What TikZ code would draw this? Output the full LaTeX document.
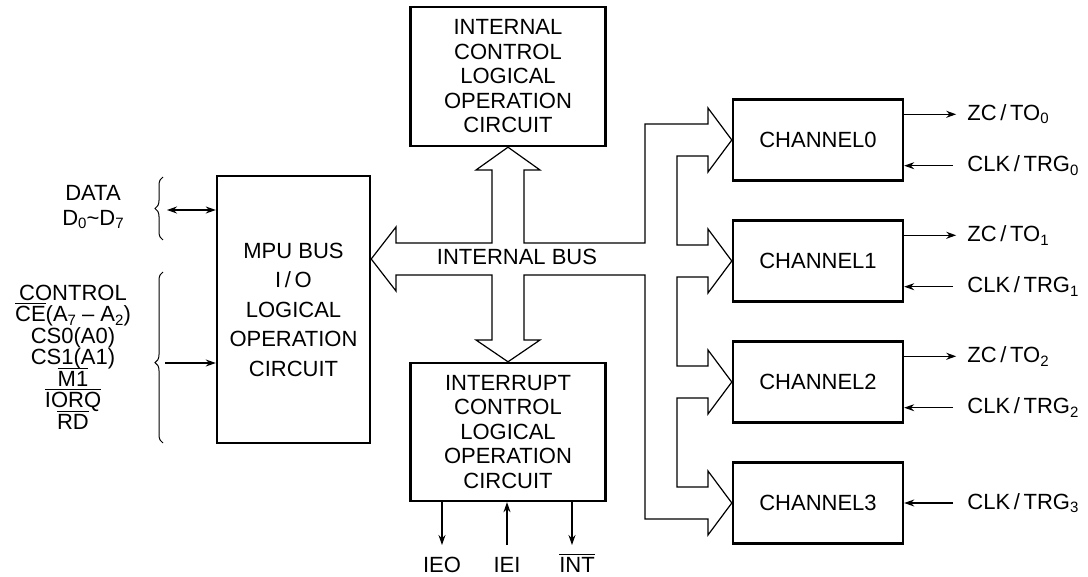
\documentclass[tikz,border=0pt]{standalone}
\usepackage{fontspec}
\setmainfont{Liberation Sans}
\usetikzlibrary{positioning,arrows.meta,calc,decorations.pathreplacing}

\newcommand\lsub[1]{\raisebox{-3.5pt}{\fontsize{15}{15}\selectfont #1}}
\newcommand\ovl[1]{\setbox0\hbox{#1}\rlap{\smash{\rule[17.5pt]{\wd0}{0.9pt}}}\box0}
\lineskiplimit=-100pt

\tikzset{
  block/.style={draw,line width=2.4pt,align=center,inner sep=0pt},
  sig/.style={line width=1.1pt,-{Stealth[length=10pt,width=7pt]}},
  bus/.style={line width=1.2pt,line join=miter},
  lbl/.style={inner sep=0pt,align=center},
  brc/.style={decorate,decoration={brace,amplitude=8pt},line width=1pt}
}

\begin{document}
\begin{tikzpicture}[x=1pt,y=-1pt,font=\fontsize{22}{24.5}\selectfont]
\useasboundingbox (0,0) rectangle (1088,577);

% circuit blocks
\node[block,minimum width=153pt,minimum height=267pt,
      font=\fontsize{22}{29.5}\selectfont] (mpu) at (293.5,309.5)
  {MPU BUS\\I\,/\,O\\LOGICAL\\OPERATION\\CIRCUIT};
\node[block,minimum width=195pt,minimum height=139pt] (ictl) at (508,76.5)
  {INTERNAL\\CONTROL\\LOGICAL\\OPERATION\\CIRCUIT};
\node[block,minimum width=195pt,minimum height=138pt] (intr) at (508,432)
  {INTERRUPT\\CONTROL\\LOGICAL\\OPERATION\\CIRCUIT};
\foreach \i/\y in {0/140,1/261,2/382,3/503}
  \node[block,minimum width=170pt,minimum height=81pt] (ch\i) at (818,\y) {CHANNEL\i};

% internal bus outline
\draw[bus] (396,243) -- (492,243) -- (492,170) -- (476,170) -- (ictl.south)
  -- (540,170) -- (524,170) -- (524,243) -- (645,243) -- (645,124)
  -- (708,124) -- (708,108) -- (ch0.west) -- (708,172) -- (708,156)
  -- (677,156) -- (677,245) -- (708,245) -- (708,229) -- (ch1.west)
  -- (708,293) -- (708,277) -- (677,277) -- (677,366) -- (708,366)
  -- (708,350) -- (ch2.west) -- (708,414) -- (708,398) -- (677,398)
  -- (677,487) -- (708,487) -- (708,471) -- (ch3.west) -- (708,535)
  -- (708,519) -- (645,519) -- (645,275) -- (524,275) -- (524,340)
  -- (540,340) -- (intr.north) -- (476,340) -- (492,340) -- (492,275)
  -- (396,275) -- (396,291) -- (mpu.east |- 0,259) -- (396,227) -- cycle;
\node[lbl] (busl) at (517,257) {INTERNAL BUS};

% channel outputs and inputs
\foreach \i in {0,1,2} {
  \coordinate (zc\i) at ($(ch\i.north east)+(52,16)$);
  \node[lbl,anchor=west] (zct\i) at ($(zc\i)+(11,0)$) {ZC\,/\,TO\lsub{\i}};
  \draw[sig] (ch\i.east |- zc\i) -- (zc\i);
  \coordinate (ck\i) at ($(ch\i.south east)+(49,-16)$);
  \node[lbl,anchor=west] (ckt\i) at ($(ck\i)+(14,0)$) {CLK\,/\,TRG\lsub{\i}};
  \draw[sig] (ck\i) -- (ch\i.east |- ck\i);
}
\coordinate (ck3) at ($(ch3.east)+(49,0)$);
\node[lbl,anchor=west] (ckt3) at ($(ck3)+(14,0)$) {CLK\,/\,TRG\lsub{3}};
\draw[sig] (ck3) -- (ch3.east);

% MPU side
\node[lbl,font=\fontsize{22}{25}\selectfont] (data) at (93,207)
  {DATA\\D\lsub{0}\textasciitilde D\lsub{7}};
\draw[brc] (163,240) -- (163,177);
\coordinate (dat) at (167,210);
\draw[sig,{Stealth[length=10pt,width=7pt]}-{Stealth[length=10pt,width=7pt]}]
  (dat) -- (mpu.west |- dat);

\node[lbl,font=\fontsize{22}{21.5}\selectfont] (ctrl) at (73,357)
  {CONTROL\\\ovl{CE}(A\lsub{7} -- A\lsub{2})\\CS0(A0)\\CS1(A1)\\\ovl{M1}\\\ovl{IORQ}\\\ovl{RD}};
\draw[brc,decoration={aspect=0.47}] (163,443) -- (163,272);
\coordinate (ctl) at (165,363);
\draw[sig] (ctl) -- (mpu.west |- ctl);

% interrupt lines
\coordinate (ieo) at (442,545);
\coordinate (iei) at (507,545);
\coordinate (intc) at (572,545);
\draw[sig] (intr.south -| ieo) -- (ieo);
\draw[sig] (iei) -- (intr.south -| iei);
\draw[sig] (intr.south -| intc) -- (intc);
\node[lbl,below=12pt of ieo] (ieol) {IEO};
\node[lbl,below=12pt of iei] (ieil) {IEI};
\node[lbl,below=12pt of intc,xshift=5pt] (intl) {\ovl{INT}};
\end{tikzpicture}
\end{document}
